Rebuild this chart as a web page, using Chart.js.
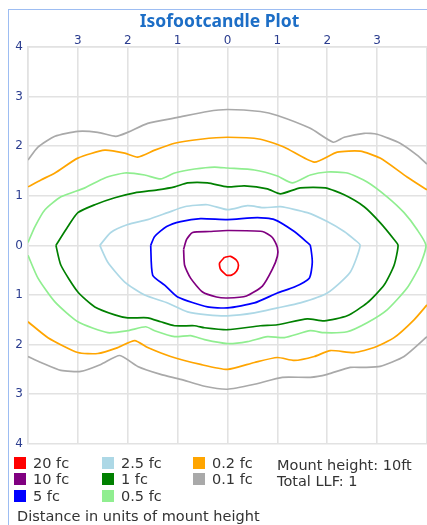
<!DOCTYPE html>
<html>
<head>
<meta charset="utf-8">
<script src="https://cdn.jsdelivr.net/npm/chart.js@4.4.1/dist/chart.umd.min.js"></script>
<style>
  html, body { margin: 0; padding: 0; background: #fff; overflow: hidden; }
  #frame { position: absolute; left: 8px; top: 9px; width: 600px; height: 600px;
           border-left: 1px solid #9dbdf2; border-top: 1px solid #9dbdf2; }
  #plot { position: absolute; left: 0; top: 0; }
  .txt { position: absolute; font-family: "DejaVu Sans", sans-serif; font-size: 14.5px; color: #333; white-space: nowrap; line-height: 14px; }
  .sw { position: absolute; width: 12px; height: 12px; }
</style>
</head>
<body>
<div id="frame"></div>
<canvas id="plot" width="427" height="456"></canvas>
<div id="legend"></div>
<script>
// tick labels (distance in units of mount height, shown without sign)
const xTickLabels = ['', '3', '2', '1', '0', '1', '2', '3', ''];   // for x = -4..4
const yTickLabels = ['4', '3', '2', '1', '0', '1', '2', '3', '4'];  // for y = 4..-4

const levels = ['20 fc', '10 fc', '5 fc', '2.5 fc', '1 fc', '0.5 fc', '0.2 fc', '0.1 fc'];
const levelColors = ['red', 'purple', 'blue', 'lightblue', 'green', 'lightgreen', 'orange', 'darkgray'];

// contour lines, [x, y] in units of mount height
const fc20 = [[-0.06,-0.24],[0.06,-0.22],[0.18,-0.3],[0.22,-0.4],[0.18,-0.52],[0.08,-0.6],[-0.02,-0.6],
  [-0.14,-0.48],[-0.16,-0.36],[-0.06,-0.24]];
const fc10 = [[-0.88,-0.08],[-0.82,0.12],[-0.7,0.26],[-0.36,0.28],[0,0.3],[0.7,0.28],[0.9,0.16],[1,-0.04],
  [1,-0.22],[0.9,-0.48],[0.7,-0.82],[0.38,-1.02],[0,-1.06],[-0.22,-1.04],[-0.5,-0.94],[-0.74,-0.66],
  [-0.86,-0.4],[-0.88,-0.08]];
const fc5 = [[-1.54,0],[-1.46,0.18],[-1.22,0.38],[-0.94,0.48],[-0.54,0.54],[0,0.52],[0.6,0.56],[0.94,0.52],
  [1.34,0.28],[1.6,0.06],[1.66,0],[1.7,-0.34],[1.64,-0.66],[1.34,-0.84],[1,-0.96],[0.54,-1.16],[0,-1.26],
  [-0.4,-1.24],[-1,-1.04],[-1.26,-0.8],[-1.5,-0.6],[-1.54,0]];
const fc2_5 = [[-2.56,0],[-2.34,0.26],[-2,0.42],[-1.6,0.52],[-1.2,0.66],[-0.86,0.78],[-0.4,0.82],[0,0.72],
  [0.4,0.8],[0.74,0.76],[1.06,0.78],[1.6,0.66],[2,0.48],[2.34,0.28],[2.54,0.12],[2.66,0],[2.46,-0.54],
  [2,-0.96],[1.46,-1.16],[1,-1.26],[0.54,-1.36],[0,-1.42],[-0.4,-1.4],[-0.8,-1.34],[-1.2,-1.16],
  [-1.66,-1],[-2.06,-0.74],[-2.4,-0.34],[-2.56,0]];
const fc1 = [[-3.44,0],[-3.2,0.38],[-3,0.66],[-2.66,0.82],[-2.26,0.96],[-1.86,1.06],[-1.4,1.12],[-1.06,1.18],
  [-0.8,1.26],[-0.4,1.26],[0,1.18],[0.34,1.2],[0.8,1.14],[1.06,1.04],[1.46,1.16],[1.96,1.16],[2.34,1.02],
  [2.74,0.78],[3.06,0.46],[3.34,0.12],[3.42,0],[3.34,-0.4],[3.14,-0.8],[2.8,-1.16],[2.4,-1.42],
  [1.94,-1.52],[1.6,-1.48],[1,-1.6],[0.66,-1.62],[0,-1.7],[-0.46,-1.66],[-0.66,-1.62],[-1.06,-1.62],
  [-1.34,-1.54],[-1.6,-1.46],[-2,-1.46],[-2.26,-1.4],[-2.66,-1.24],[-3,-0.94],[-3.34,-0.4],[-3.44,0]];
const fc0_5 = [[-4,0.06],[-3.86,0.38],[-3.66,0.72],[-3.34,0.98],[-2.86,1.16],[-2.46,1.36],[-2.06,1.46],
  [-1.66,1.42],[-1.34,1.34],[-1.06,1.46],[-0.66,1.54],[-0.26,1.58],[0,1.56],[0.54,1.52],[1,1.4],
  [1.3,1.26],[1.66,1.42],[2,1.48],[2.4,1.46],[2.8,1.28],[3.2,0.98],[3.54,0.66],[3.8,0.32],[3.98,0],
  [3.86,-0.4],[3.6,-0.86],[3.2,-1.3],[2.8,-1.56],[2.4,-1.74],[1.94,-1.76],[1.66,-1.72],[1.14,-1.86],
  [0.8,-1.84],[0.4,-1.94],[0,-1.98],[-0.46,-1.9],[-0.74,-1.82],[-1.06,-1.84],[-1.46,-1.72],[-1.64,-1.64],
  [-2,-1.72],[-2.4,-1.76],[-3,-1.54],[-3.46,-1.14],[-3.8,-0.66],[-4,-0.2]];
const fc0_2Top = [[-4,1.18],[-3.74,1.32],[-3.46,1.46],[-3,1.76],[-2.46,1.92],[-2.06,1.86],[-1.8,1.78],
  [-1.46,1.92],[-1.06,2.06],[-0.54,2.14],[0,2.18],[0.66,2.14],[1.14,1.98],[1.74,1.68],[2.2,1.88],
  [2.66,1.9],[3.06,1.76],[3.6,1.38],[4,1.12]];
const fc0_2Bottom = [[-4,-1.54],[-3.6,-1.86],[-3,-2.16],[-2.6,-2.18],[-2.2,-2.06],[-1.86,-1.92],[-1.6,-2.06],
  [-1.14,-2.24],[-0.54,-2.4],[0,-2.5],[0.54,-2.36],[1,-2.26],[1.34,-2.32],[1.74,-2.24],[2.06,-2.12],
  [2.54,-2.16],[2.94,-2.06],[3.34,-1.86],[3.74,-1.5],[4,-1.2]];
const fc0_1Top = [[-4,1.72],[-3.8,1.98],[-3.46,2.2],[-3,2.3],[-2.6,2.28],[-2.24,2.2],[-2,2.28],[-1.6,2.46],
  [-1,2.58],[-0.4,2.7],[0,2.74],[0.66,2.7],[1,2.62],[1.66,2.36],[2.12,2.08],[2.34,2.18],[2.74,2.26],
  [3,2.24],[3.46,2.06],[3.8,1.82],[4,1.64]];
const fc0_1Bottom = [[-4,-2.24],[-3.74,-2.36],[-3.34,-2.52],[-2.94,-2.54],[-2.54,-2.4],[-2.16,-2.22],
  [-1.8,-2.44],[-1.34,-2.6],[-0.94,-2.7],[-0.46,-2.84],[0,-2.9],[0.54,-2.8],[1.1,-2.66],[1.66,-2.66],
  [2,-2.6],[2.46,-2.46],[2.74,-2.46],[3.06,-2.44],[3.54,-2.24],[4,-1.84]];

const mountInfo = ['Mount height: 10ft', 'Total LLF: 1'];
const footNote = 'Distance in units of mount height';

function pts(arr) { return arr.map(p => ({ x: p[0], y: p[1] })); }
function joined(a, b) { return pts(a).concat([{ x: null, y: null }], pts(b)); }

const lines = [
  { data: pts(fc20), color: levelColors[0] },
  { data: pts(fc10), color: levelColors[1] },
  { data: pts(fc5), color: levelColors[2] },
  { data: pts(fc2_5), color: levelColors[3] },
  { data: pts(fc1), color: levelColors[4] },
  { data: pts(fc0_5), color: levelColors[5] },
  { data: joined(fc0_2Top, fc0_2Bottom), color: levelColors[6] },
  { data: joined(fc0_1Top, fc0_1Bottom), color: levelColors[7] }
];

new Chart(document.getElementById('plot'), {
  type: 'scatter',
  data: {
    datasets: lines.map((l, i) => ({
      label: levels[i],
      data: l.data,
      showLine: true,
      spanGaps: false,
      borderColor: l.color,
      borderWidth: 1.7,
      pointRadius: 0,
      tension: 0.2
    }))
  },
  options: {
    responsive: false,
    animation: false,
    layout: { padding: { left: 12, right: 0, top: 0, bottom: 10 } },
    plugins: {
      legend: { display: false },
      tooltip: { enabled: false },
      title: {
        display: true,
        text: 'Isofootcandle Plot',
        color: '#1d6ec6',
        font: { family: 'Noto Sans', size: 17.5, weight: 'bold', lineHeight: 1.2 },
        padding: { top: 12, bottom: 0 }
      }
    },
    scales: {
      x: {
        type: 'linear', position: 'top', min: -4, max: 4,
        afterFit: s => { s.height = 14; },
        grid: { color: '#e2e2e2', lineWidth: 1.6, drawTicks: false, tickLength: 0 },
        border: { color: '#e2e2e2', width: 1.6 },
        ticks: {
          stepSize: 1, padding: -1, color: '#2b3d8f',
          font: { family: 'DejaVu Sans', size: 12 },
          callback: v => xTickLabels[v + 4]
        }
      },
      y: {
        type: 'linear', position: 'left', min: -4, max: 4,
        afterFit: s => { s.width = 16; },
        grid: { color: '#e2e2e2', lineWidth: 1.6, drawTicks: false, tickLength: 0 },
        border: { color: '#e2e2e2', width: 1.6 },
        ticks: {
          stepSize: 1, padding: 5, color: '#2b3d8f',
          font: { family: 'DejaVu Sans', size: 12 },
          callback: v => yTickLabels[4 - v]
        }
      }
    }
  }
});

// legend below the plot: three columns of swatches, then mount info
const legend = document.getElementById('legend');
const colX = [14, 102, 193];
const rowY = [457, 473, 490];
levels.forEach((name, i) => {
  const col = Math.floor(i / 3), row = i % 3;
  const sw = document.createElement('div');
  sw.className = 'sw';
  sw.style.left = colX[col] + 'px';
  sw.style.top = rowY[row] + 'px';
  sw.style.background = levelColors[i];
  legend.appendChild(sw);
  const t = document.createElement('div');
  t.className = 'txt';
  t.style.left = (colX[col] + 19) + 'px';
  t.style.top = (rowY[row] - 1) + 'px';
  t.textContent = name;
  legend.appendChild(t);
});
mountInfo.forEach((s, i) => {
  const t = document.createElement('div');
  t.className = 'txt';
  t.style.left = '277px';
  t.style.top = (rowY[i] + 1) + 'px';
  t.textContent = s;
  legend.appendChild(t);
});
const foot = document.createElement('div');
foot.className = 'txt';
foot.style.left = '17px';
foot.style.top = '509px';
foot.textContent = footNote;
legend.appendChild(foot);
</script>
</body>
</html>
